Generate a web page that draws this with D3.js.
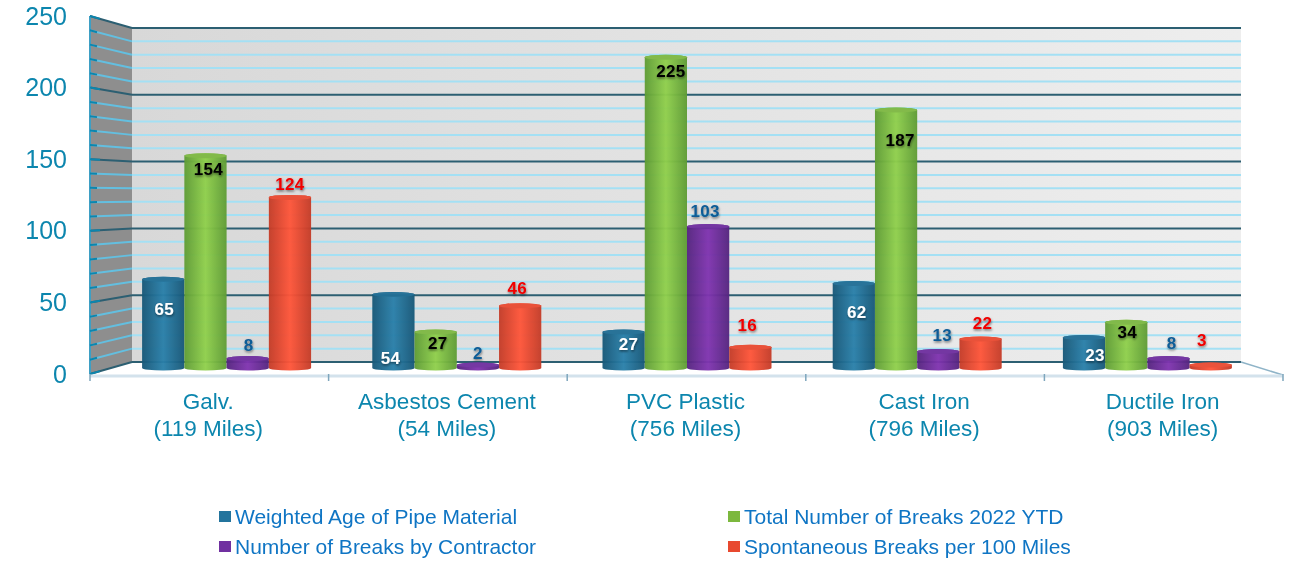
<!doctype html>
<html lang="en">

<head>
    <meta charset="utf-8">
    <title>Pipe material breaks</title>
    <script src="https://cdn.jsdelivr.net/npm/d3@7"></script>
    <style>
        html, body { margin: 0; padding: 0; background: #fff; }
        svg { display: block; filter: blur(0.35px); font-family: "Liberation Sans", Arial, sans-serif; }
        .val { font-size: 17px; font-weight: bold; text-anchor: middle; dominant-baseline: central; letter-spacing: 0.3px; }
    </style>
</head>

<body>
    <svg></svg>
    <script>
        var width = 1298;
        var height = 561;

        var categories = ["Galv.", "Asbestos Cement", "PVC Plastic", "Cast Iron", "Ductile Iron"];
        var miles = ["(119 Miles)", "(54 Miles)", "(756 Miles)", "(796 Miles)", "(903 Miles)"];

        var weightedAge = [65, 54, 27, 62, 23];
        var totalBreaks = [154, 27, 225, 187, 34];
        var contractorBreaks = [8, 2, 103, 13, 8];
        var spontaneousBreaks = [124, 46, 16, 22, 3];

        var seriesNames = ["Weighted Age of Pipe Material", "Total Number of Breaks 2022 YTD", "Number of Breaks by Contractor", "Spontaneous Breaks per 100 Miles"];
        var yTicks = [0, 50, 100, 150, 200, 250];
        var minorTicks = d3.range(0, 251, 10);

        var allSeries = [weightedAge, totalBreaks, contractorBreaks, spontaneousBreaks];
        var barColors = [
            { dark: "#185878", light: "#2a80aa", cap: "#226f96", text: "#fff", swatch: "#23749d" },
            { dark: "#5f9c35", light: "#90d04c", cap: "#7fb944", text: "#000", swatch: "#7cb83e" },
            { dark: "#55257f", light: "#8034b0", cap: "#7030a0", text: "#0d5c96", swatch: "#7030a0" },
            { dark: "#c43c28", light: "#ff563a", cap: "#ea4c33", text: "#f00000", swatch: "#e8492f" }
        ];

        // the labels sit unevenly in the original, so each one gets a nudge [dx, dy] off its bar top
        var labelNudge = [
            [[1, 33], [-3, 66], [5, 15], [3, 32], [11, 20]],
            [[3, 16], [2, 14], [5, 17], [4, 33], [1, 13]],
            [[1, -10], [0, -11], [-3, -13], [4, -13], [3, -12]],
            [[0, -10], [-3, -15], [-3, -19], [2, -13], [-9, -22]]
        ];

        var svg = d3.select("svg").attr("width", width).attr("height", height);
        var defs = svg.append("defs");

        var wallGrad = defs.append("linearGradient").attr("id", "wall");
        wallGrad.append("stop").attr("offset", "0%").attr("stop-color", "#d8d8d8");
        wallGrad.append("stop").attr("offset", "100%").attr("stop-color", "#eeeeee");

        barColors.forEach(function (c, i) {
            var g = defs.append("linearGradient").attr("id", "bar" + i);
            g.append("stop").attr("offset", "0%").attr("stop-color", c.dark);
            g.append("stop").attr("offset", "50%").attr("stop-color", c.light);
            g.append("stop").attr("offset", "100%").attr("stop-color", c.dark);
        });

        var shadow = defs.append("filter").attr("id", "txtShadow").attr("x", "-20%").attr("y", "-20%").attr("width", "140%").attr("height", "150%");
        shadow.append("feDropShadow").attr("dx", 0.5).attr("dy", 1.5).attr("stdDeviation", 1).attr("flood-color", "#000").attr("flood-opacity", 0.5);

        // three scales: front edge of the floor, back wall, and the bars standing between them
        var yFront = d3.scaleLinear().domain([0, 250]).range([374, 16]);
        var yBack = d3.scaleLinear().domain([0, 250]).range([362, 28]);
        var yBar = d3.scaleLinear().domain([0, 250]).range([367, 20]);

        var xFront = d3.scaleBand().domain(categories).range([90, 1283]);
        var xBar = d3.scaleBand().domain(categories).range([111.5, 1262.5]);
        var xSeries = d3.scaleBand().domain(d3.range(4)).range([xBar.bandwidth() / 2 - 84.5, xBar.bandwidth() / 2 + 84.5]);

        var backLeft = 132, backRight = 1241;

        // back wall and side wall
        svg.append("rect").attr("x", backLeft).attr("y", yBack(250)).attr("width", backRight - backLeft)
            .attr("height", yBack(0) - yBack(250)).attr("fill", "url(#wall)");
        svg.append("path").attr("fill", "#8e8e8e")
            .attr("d", d3.line()([[90, yFront(250)], [backLeft, yBack(250)], [backLeft, yBack(0)], [90, yFront(0)]]));

        // gridlines, minor first
        var grid = svg.append("g");
        function drawGrid(values, sideColor, backColor, w) {
            grid.selectAll(null).data(values).enter().append("path")
                .attr("fill", "none").attr("stroke", sideColor).attr("stroke-width", w)
                .attr("d", function (d) { return d3.line()([[90, yFront(d)], [backLeft, yBack(d)]]); });
            grid.selectAll(null).data(values).enter().append("path")
                .attr("fill", "none").attr("stroke", backColor).attr("stroke-width", w)
                .attr("d", function (d) { return d3.line()([[backLeft, yBack(d)], [backRight, yBack(d)]]); });
        }
        drawGrid(minorTicks.filter(function (d) { return d % 50 != 0; }), "#63bfe0", "#a4e0f4", 2);
        drawGrid(yTicks, "#2c5f72", "#2c5f72", 2);

        // floor edges
        svg.append("path").attr("fill", "none").attr("stroke", "#8fb4c8").attr("stroke-width", 1.5)
            .attr("d", d3.line()([[backRight, yBack(0)], [1283, 375]]));

        // y axis
        var yAxis = svg.append("g").attr("transform", "translate(90,0)")
            .call(d3.axisLeft(yFront).tickValues(yTicks).tickSize(0).tickPadding(23));
        yAxis.select(".domain").remove();
        yAxis.selectAll("text").attr("font-family", "Liberation Sans").attr("font-size", 25).attr("fill", "#0c86ae");

        svg.append("line").attr("x1", 90).attr("x2", 90).attr("y1", yFront(250)).attr("y2", yFront(0))
            .attr("stroke", "#3e9fc4").attr("stroke-width", 2);
        // short ticks run along the wall slope
        var wallSlope = function (d) { return (yBack(d) - yFront(d)) / (backLeft - 90); };
        svg.selectAll(".ytick").data(minorTicks).enter().append("line")
            .attr("x1", 90).attr("y1", function (d) { return yFront(d); })
            .attr("x2", function (d) { return d % 50 == 0 ? 100 : 97; })
            .attr("y2", function (d) { return yFront(d) + wallSlope(d) * (d % 50 == 0 ? 10 : 7); })
            .attr("stroke", "#0c86ae").attr("stroke-width", 2);

        // x axis line, ticks at band edges
        svg.append("line").attr("x1", 90).attr("x2", 1283).attr("y1", 376).attr("y2", 376)
            .attr("stroke", "#d3e2ec").attr("stroke-width", 3);
        svg.selectAll(".xtick").data(d3.range(6)).enter().append("line")
            .attr("x1", function (i) { return 90 + i * xFront.step(); })
            .attr("x2", function (i) { return 90 + i * xFront.step(); })
            .attr("y1", 374).attr("y2", 381)
            .attr("stroke", "#7ea6bd").attr("stroke-width", 1.5);

        // category labels
        var xLabels = svg.append("g").selectAll("text").data(categories).enter().append("text")
            .attr("text-anchor", "middle").attr("font-size", 22.5).attr("fill", "#0c86ae")
            .attr("x", function (d) { return xFront(d) + xFront.bandwidth() / 2 - 1; });
        xLabels.append("tspan").attr("y", 409).text(function (d) { return d; });
        xLabels.append("tspan").attr("y", 436)
            .attr("x", function (d) { return xFront(d) + xFront.bandwidth() / 2 - 1; })
            .text(function (d, i) { return miles[i]; });

        // cylinders
        var ry = 2.5;
        var baseY = 368;
        function barTop(v) { return Math.min(yBar(v) + ry, baseY - 3); }

        allSeries.forEach(function (values, s) {
            var g = svg.append("g").attr("opacity", 0.96);
            var rx = xSeries.bandwidth() / 2;
            var cols = categories.map(function (c, i) {
                return { cx: xBar(c) + xSeries(s) + xSeries.bandwidth() / 2, top: barTop(values[i]) };
            });
            g.selectAll("path").data(cols).enter().append("path")
                .attr("fill", "url(#bar" + s + ")")
                .attr("d", function (d) {
                    return "M" + (d.cx - rx) + "," + d.top + "L" + (d.cx - rx) + "," + baseY +
                        "A" + rx + "," + ry + " 0 0 0 " + (d.cx + rx) + "," + baseY +
                        "L" + (d.cx + rx) + "," + d.top +
                        "A" + rx + "," + ry + " 0 0 0 " + (d.cx - rx) + "," + d.top + "Z";
                });
            g.selectAll("ellipse").data(cols).enter().append("ellipse")
                .attr("cx", function (d) { return d.cx; }).attr("cy", function (d) { return d.top; })
                .attr("rx", rx).attr("ry", ry).attr("fill", barColors[s].cap);
        });

        // value labels on top of everything
        allSeries.forEach(function (values, s) {
            svg.append("g").selectAll("text").data(values).enter().append("text")
                .attr("class", "val").attr("fill", barColors[s].text).attr("filter", "url(#txtShadow)")
                .attr("x", function (d, i) { return xBar(categories[i]) + xSeries(s) + xSeries.bandwidth() / 2 + labelNudge[s][i][0]; })
                .attr("y", function (d, i) { return yBar(d) + labelNudge[s][i][1]; })
                .text(function (d) { return d; });
        });

        // legend
        var legendX = [219, 728];
        var legendY = [517, 547];
        var legend = svg.append("g").selectAll("g").data(seriesNames).enter().append("g")
            .attr("transform", function (d, i) { return "translate(" + legendX[i % 2] + "," + legendY[Math.floor(i / 2)] + ")"; });
        legend.append("rect").attr("x", 0).attr("y", -6).attr("width", 12).attr("height", 11)
            .attr("fill", function (d, i) { return barColors[i].swatch; });
        legend.append("text").attr("x", 16).attr("y", 7).attr("font-size", 21).attr("fill", "#0f75c4")
            .text(function (d) { return d; });
    </script>

</body>

</html>
